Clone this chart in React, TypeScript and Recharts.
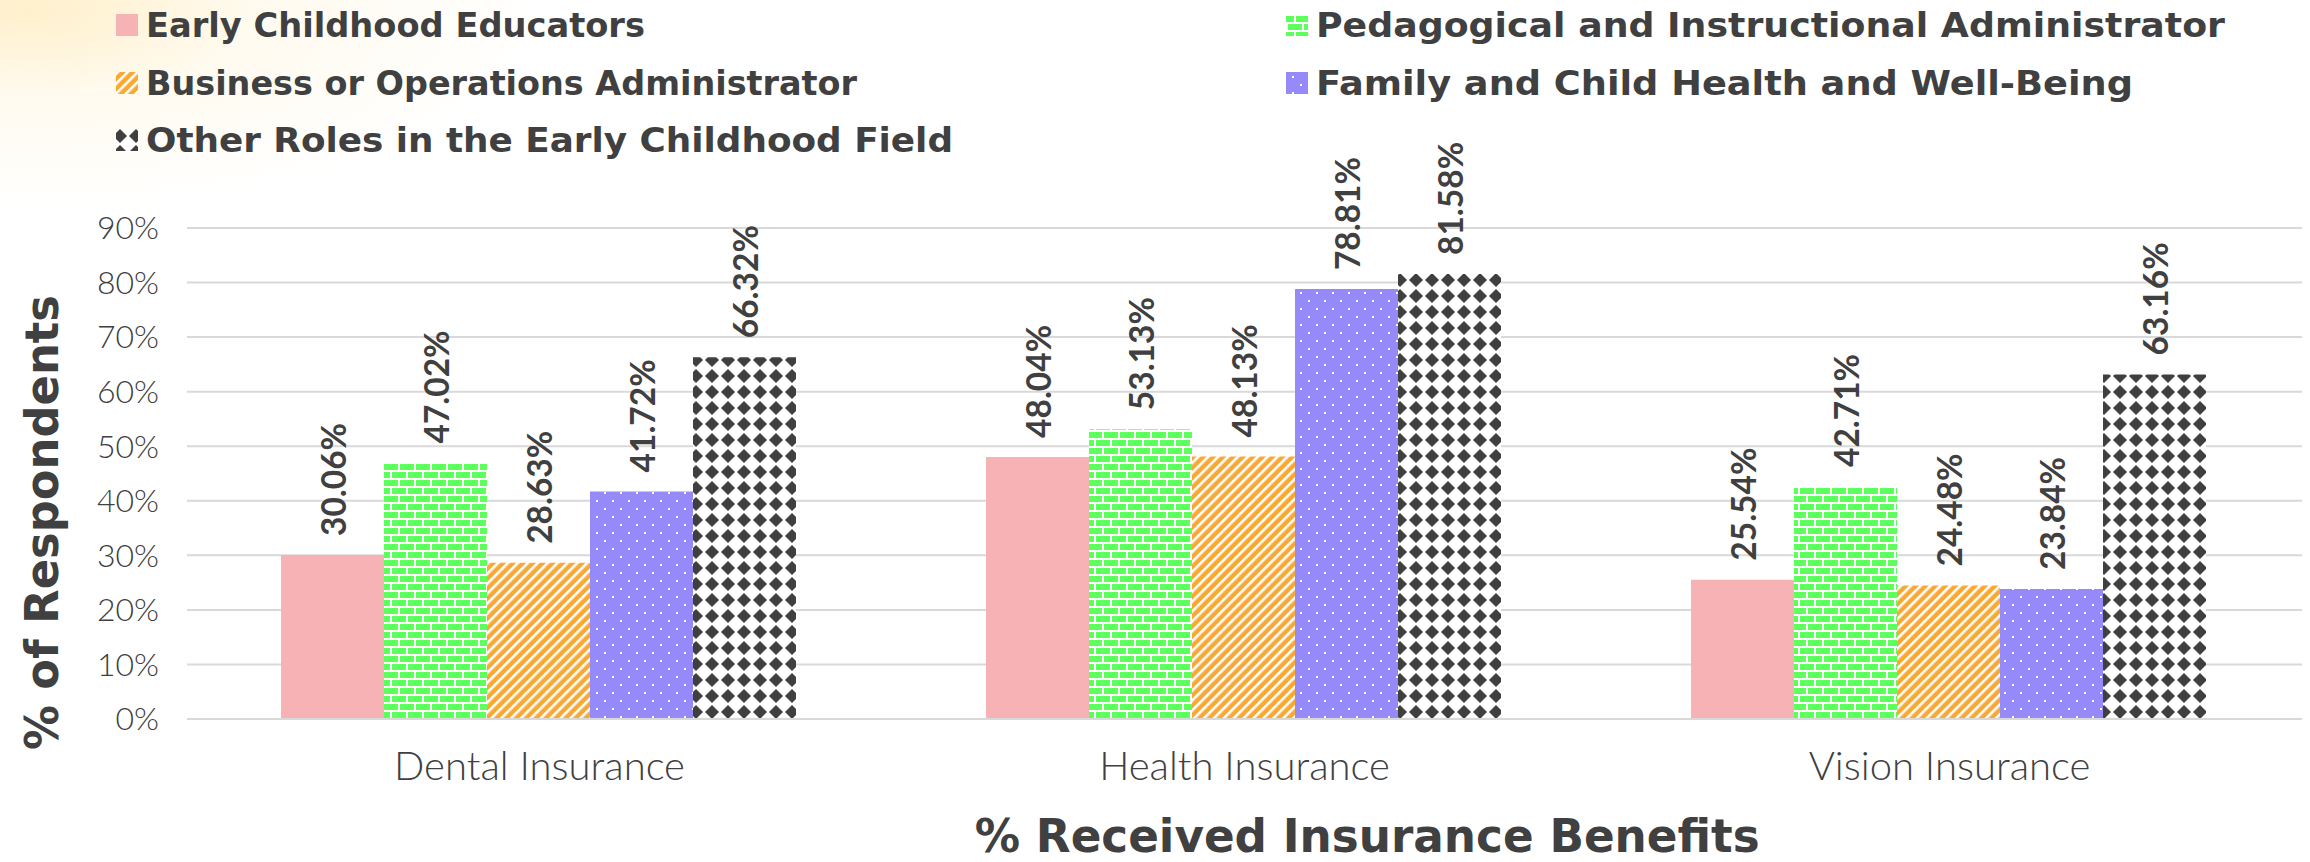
import React from "react";
import { Bar, BarChart, CartesianGrid, Label, LabelList, XAxis, YAxis } from "recharts";

const categories = ["Dental Insurance", "Health Insurance", "Vision Insurance"];
const educators = [30.06, 48.04, 25.54];
const pedagogical = [47.02, 53.13, 42.71];
const business = [28.63, 48.13, 24.48];
const family = [41.72, 78.81, 23.84];
const otherRoles = [66.32, 81.58, 63.16];
const yTicks = [0, 10, 20, 30, 40, 50, 60, 70, 80, 90];

const TEXT = "#404040";
const GRID = "#D9D9D9";

const series = [
  { key: "educators", name: "Early Childhood Educators", values: educators, fill: (p: string) => "#F7B2B5" },
  { key: "pedagogical", name: "Pedagogical and Instructional Administrator", values: pedagogical, fill: (p: string) => `url(#${p}-brick)` },
  { key: "business", name: "Business or Operations Administrator", values: business, fill: (p: string) => `url(#${p}-stripe)` },
  { key: "family", name: "Family and Child Health and Well-Being", values: family, fill: (p: string) => `url(#${p}-dots)` },
  { key: "otherRoles", name: "Other Roles in the Early Childhood Field", values: otherRoles, fill: (p: string) => `url(#${p}-diamond)` },
];

const data = categories.map((category, i) => {
  const row: Record<string, string | number> = { category };
  series.forEach((s) => (row[s.key] = s.values[i]));
  return row;
});

// legend placement: [column x, row centre y, text width]
const legendSlots: Record<string, [number, number, number]> = {
  educators: [116, 25, 499],
  business: [116, 83, 711],
  otherRoles: [116, 140, 807],
  pedagogical: [1286, 25, 909],
  family: [1286, 83, 817],
};

function PatternDefs({ prefix }: { prefix: string }) {
  return (
    <defs>
      <pattern id={`${prefix}-brick`} width={16} height={16} patternUnits="userSpaceOnUse">
        <rect width={16} height={16} fill="#fff" />
        <rect x={0} y={0} width={14} height={6} fill="#5CFF5C" />
        <rect x={0} y={8} width={6} height={6} fill="#5CFF5C" />
        <rect x={8} y={8} width={8} height={6} fill="#5CFF5C" />
      </pattern>
      <pattern
        id={`${prefix}-stripe`}
        width={7}
        height={7}
        patternUnits="userSpaceOnUse"
        patternTransform="rotate(45)"
      >
        <rect width={7} height={7} fill="#FAA834" />
        <rect width={2.6} height={7} fill="#fff" />
      </pattern>
      <pattern id={`${prefix}-dots`} width={16} height={16} patternUnits="userSpaceOnUse">
        <rect width={16} height={16} fill="#9689FA" />
        <rect x={4} y={4} width={2} height={2} fill="#fff" />
        <rect x={12} y={12} width={2} height={2} fill="#fff" />
      </pattern>
      <pattern id={`${prefix}-diamond`} width={16} height={16} patternUnits="userSpaceOnUse">
        <rect width={16} height={16} fill="#fff" />
        <polygon points="8,1 15,8 8,15 1,8" fill="#3F3F3F" />
      </pattern>
    </defs>
  );
}

const ValueLabel = (props: any) => {
  const { x, y, width, value } = props;
  const cx = Number(x) + Number(width) / 2;
  const ty = Number(y) - 19;
  return (
    <text
      x={cx}
      y={ty}
      transform={`rotate(-90 ${cx} ${ty})`}
      textAnchor="start"
      dominantBaseline="central"
      fill={TEXT}
      fontSize={34}
      fontWeight={700}
      fontFamily="Lato"
      textLength={113}
      lengthAdjust="spacingAndGlyphs"
    >
      {Number(value).toFixed(2)}%
    </text>
  );
};

const XTitle = (props: any) => {
  const { viewBox } = props;
  const cx = viewBox.x + viewBox.width * 0.558;
  return (
    <text x={cx} y={852} textAnchor="middle" fill={TEXT} fontSize={46} fontWeight={700}
      fontFamily="DejaVu Sans" textLength={785} lengthAdjust="spacingAndGlyphs">
      % Received Insurance Benefits
    </text>
  );
};

const YTitle = (props: any) => {
  const { viewBox } = props;
  const cy = viewBox.y + viewBox.height * 0.6;
  const bx = 58;
  return (
    <text x={bx} y={cy} transform={`rotate(-90 ${bx} ${cy})`} textAnchor="middle" fill={TEXT}
      fontSize={47} fontWeight={700} fontFamily="DejaVu Sans" textLength={455} lengthAdjust="spacingAndGlyphs">
      % of Respondents
    </text>
  );
};

export default function App() {
  return (
    <div
      style={{
        position: "absolute",
        left: 0,
        top: 0,
        width: 2310,
        height: 862,
        overflow: "hidden",
        background:
          "radial-gradient(ellipse 520px 200px at 30px 10px, #FFF0CC 0%, rgba(255,248,230,0.6) 45%, rgba(255,255,255,0) 100%), #fff",
      }}
    >
      <BarChart
        width={2310}
        height={862}
        data={data}
        margin={{ top: 228, right: 8, bottom: 103, left: 127 }}
        barCategoryGap={94}
        barGap={0}
        style={{ position: "absolute", left: 0, top: 0 }}
      >
        <PatternDefs prefix="bar" />
        <CartesianGrid vertical={false} stroke={GRID} strokeWidth={2} />
        <XAxis
          dataKey="category"
          height={40}
          interval={0}
          tickSize={0}
          tickMargin={33}
          tickLine={false}
          axisLine={{ stroke: GRID, strokeWidth: 2 }}
          tick={{ fill: TEXT, fontSize: 40, fontFamily: "Lato", fontWeight: 300 }}
          label={<Label content={XTitle} />}
        />
        <YAxis
          width={60}
          domain={[0, 90]}
          ticks={yTicks}
          tickFormatter={(v: number) => `${v}%`}
          axisLine={false}
          tickLine={false}
          tickSize={0}
          tickMargin={28}
          tick={{ fill: TEXT, fontSize: 32, fontFamily: "Lato", fontWeight: 300 }}
          label={<Label content={YTitle} />}
        />
        {series.map((s) => (
          <Bar key={s.key} dataKey={s.key} name={s.name} fill={s.fill("bar")} isAnimationActive={false}>
            <LabelList dataKey={s.key} content={ValueLabel} />
          </Bar>
        ))}
      </BarChart>
      <svg width={2310} height={180} style={{ position: "absolute", left: 0, top: 0 }}>
        <PatternDefs prefix="lg" />
        {series.map((s) => {
          const [x, cy, w] = legendSlots[s.key];
          return (
            <g key={s.key}>
              <rect x={x} y={cy - 11} width={22} height={22} fill={s.fill("lg")} />
              <text x={x + 30} y={cy + 12} fill={TEXT} fontSize={34} fontWeight={700} fontFamily="DejaVu Sans"
                textLength={w} lengthAdjust="spacingAndGlyphs">
                {s.name}
              </text>
            </g>
          );
        })}
      </svg>
    </div>
  );
}
